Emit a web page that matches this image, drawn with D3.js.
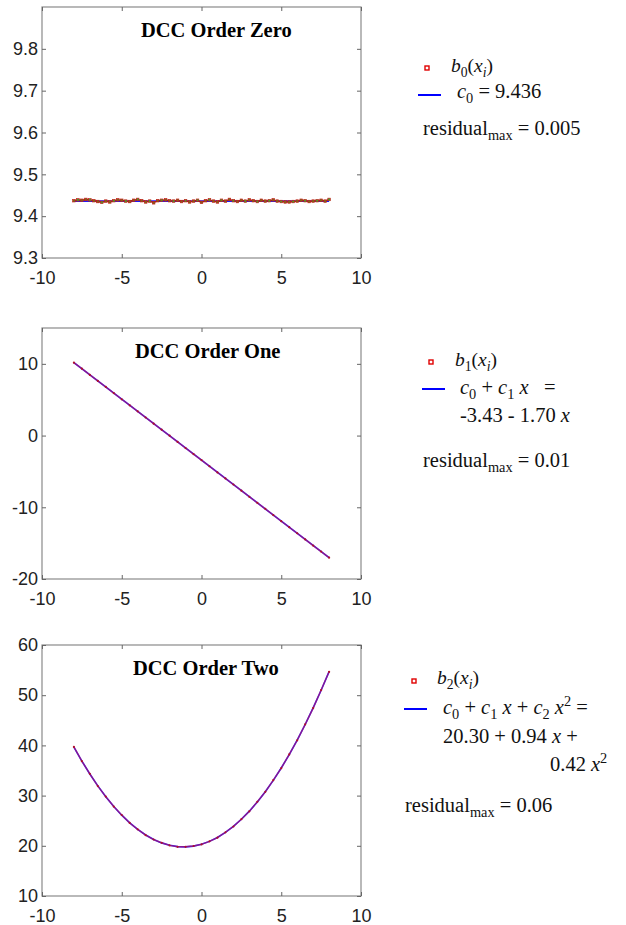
<!DOCTYPE html>
<html>
<head>
<meta charset="utf-8">
<script src="https://cdn.jsdelivr.net/npm/d3@7"></script>
<style>
  body { margin: 0; background: #fff; }
  text { white-space: pre; }
</style>
</head>
<body>
<svg id="chart" width="626" height="925"></svg>
<script>
// ---- data ----
const xTicks = [-10, -5, 0, 5, 10];
const titles = ["DCC Order Zero", "DCC Order One", "DCC Order Two"];

// order zero: samples every 0.25 from -8 to 8, fit c0
const yTicks0 = [9.3, 9.4, 9.5, 9.6, 9.7, 9.8];
const b0 = [9.437, 9.439, 9.438, 9.440, 9.439, 9.437, 9.435, 9.433, 9.436, 9.434,
            9.437, 9.439, 9.438, 9.436, 9.435, 9.438, 9.440, 9.437, 9.434, 9.436,
            9.432, 9.437, 9.438, 9.439, 9.437, 9.436, 9.438, 9.435, 9.437, 9.434,
            9.436, 9.438, 9.433, 9.437, 9.439, 9.436, 9.434, 9.438, 9.436, 9.440,
            9.437, 9.435, 9.438, 9.436, 9.439, 9.437, 9.435, 9.438, 9.436, 9.437,
            9.439, 9.436, 9.435, 9.434, 9.434, 9.435, 9.436, 9.438, 9.437, 9.435,
            9.436, 9.437, 9.438, 9.436, 9.440];
const fit0x = [-8, 8];
const fit0 = [9.436, 9.436];

// order one: samples every 0.5 from -8 to 8
const yTicks1 = [-20, -10, 0, 10];
const b1 = [10.17, 9.33, 8.46, 7.62, 6.78, 5.92, 5.06, 4.22, 3.38, 2.52, 1.66,
            0.82, -0.02, -0.88, -1.74, -2.58, -3.42, -4.28, -5.14, -5.98, -6.82,
            -7.68, -8.54, -9.38, -10.22, -11.08, -11.94, -12.78, -13.62, -14.48,
            -15.34, -16.18, -17.02];
const fit1x = [-8, 8];
const fit1 = [10.17, -17.03];

// order two: samples every 0.5 from -8 to 8
const yTicks2 = [10, 20, 30, 40, 50, 60];
const b2 = [39.70, 36.85, 34.33, 31.90, 29.80, 27.82, 26.14, 24.55, 23.28, 22.12,
            21.25, 20.61, 20.08, 19.80, 19.80, 19.96, 20.27, 20.90, 21.62, 22.69,
            23.84, 25.31, 26.86, 28.77, 30.75, 33.08, 35.47, 38.21, 41.02, 44.19,
            47.43, 51.02, 54.66];
const fit2x = [-8, -7.5, -7, -6.5, -6, -5.5, -5, -4.5, -4, -3.5, -3, -2.5, -2, -1.5,
               -1, -0.5, 0, 0.5, 1, 1.5, 2, 2.5, 3, 3.5, 4, 4.5, 5, 5.5, 6, 6.5, 7, 7.5, 8];
const fit2 = [39.66, 36.88, 34.30, 31.94, 29.78, 27.84, 26.10, 24.58, 23.26, 22.16,
              21.26, 20.58, 20.10, 19.84, 19.78, 19.94, 20.30, 20.88, 21.66, 22.66,
              23.86, 25.28, 26.90, 28.74, 30.78, 33.04, 35.50, 38.18, 41.06, 44.16,
              47.46, 50.98, 54.70];

const residuals = ["0.005", "0.01", "0.06"];

// ---- layout ----
const svg = d3.select("#chart");
const sansFont = "'Liberation Sans', Arial, Helvetica, sans-serif";
const serifFont = "'Liberation Serif', 'Times New Roman', serif";
const left = 42, plotW = 319, plotH = 251;
const fmt = d => String(d); // plain hyphen minus like the original

const panels = [
  {top: 7,   domain: [9.3, 9.9], ticks: yTicks0, samples: b0, step: 0.25, fx: fit0x, fy: fit0, titleX: 141, zero: true},
  {top: 328, domain: [-20, 15],  ticks: yTicks1, samples: b1, step: 0.5,  fx: fit1x, fy: fit1, titleX: 135},
  {top: 645, domain: [10, 60],   ticks: yTicks2, samples: b2, step: 0.5,  fx: fit2x, fy: fit2, titleX: 133}
];

panels.forEach(function(p, k) {
  const g = svg.append("g").attr("transform", "translate(" + left + "," + p.top + ")");
  const x = d3.scaleLinear().domain([-10, 10]).range([0, plotW]);
  const y = d3.scaleLinear().domain(p.domain).range([plotH, 0]);

  g.append("rect").attr("width", plotW).attr("height", plotH)
    .attr("fill", "#fff").attr("stroke", "#8a8a8a").attr("stroke-width", 1.2);

  const styleAxis = function(a) {
    a.select(".domain").remove();
    a.selectAll(".tick line").attr("stroke", "#666");
    a.selectAll("text").attr("font-family", sansFont).attr("font-size", 18).attr("fill", "#222");
  };
  g.append("g").call(d3.axisLeft(y).tickValues(p.ticks).tickFormat(fmt).tickSize(-4).tickPadding(4)).call(styleAxis);
  g.append("g").attr("transform", "translate(" + plotW + ",0)")
    .call(d3.axisRight(y).tickValues(p.ticks).tickSize(-4).tickFormat("")).call(styleAxis);
  g.append("g").attr("transform", "translate(0," + plotH + ")")
    .call(d3.axisBottom(x).tickValues(xTicks).tickFormat(fmt).tickSize(-4).tickPadding(13)).call(styleAxis);
  g.append("g")
    .call(d3.axisTop(x).tickValues(xTicks).tickSize(-4).tickFormat("")).call(styleAxis);

  g.append("text").attr("x", p.titleX - left).attr("y", 30)
    .attr("font-family", serifFont).attr("font-weight", "bold").attr("font-size", 20.5)
    .text(titles[k]);

  const xs = d3.range(p.samples.length).map(i => -8 + i * p.step);
  const line = d3.line().x(d => x(d[0])).y(d => y(d[1]));

  // fitted curve (blue)
  g.append("path").datum(p.fx.map((v, i) => [v, p.fy[i]]))
    .attr("d", line).attr("fill", "none")
    .attr("stroke", "#1a1aff").attr("stroke-width", 1.6);

  const pts = xs.map((v, i) => [v, p.samples[i]]);
  if (p.zero) {
    g.append("path").datum(pts).attr("d", line).attr("fill", "none")
      .attr("stroke", "#b01818").attr("stroke-width", 1.4);
    g.selectAll("rect.pt").data(pts).enter().append("rect").attr("class", "pt")
      .attr("x", d => x(d[0]) - 1.3).attr("y", d => y(d[1]) - 1.3)
      .attr("width", 2.6).attr("height", 2.6)
      .attr("fill", (d, i) => i % 3 === 1 ? "#4c9a2a" : "#7a6a1a")
      .attr("stroke", "#c81818").attr("stroke-width", 0.6);
  } else {
    g.append("path").datum(pts).attr("d", line).attr("fill", "none")
      .attr("stroke", "#d0104a").attr("stroke-opacity", 0.6).attr("stroke-width", 1.4);
    g.selectAll("circle.pt").data(pts).enter().append("circle").attr("class", "pt")
      .attr("cx", d => x(d[0])).attr("cy", d => y(d[1])).attr("r", 1.1)
      .attr("fill", "#b0102a");
  }
});

// ---- legends ----
function rich(x, y, parts, size) {
  const fs = size || 20.5;
  const t = svg.append("text").attr("x", x).attr("y", y)
    .attr("font-family", serifFont).attr("font-size", fs).attr("fill", "#111");
  let off = 0;
  parts.forEach(function(p) {
    const o = p.sub ? 5 : (p.sup ? -8 : 0);
    const s = t.append("tspan").attr("dy", o - off).text(p.t);
    off = o;
    if (p.i) s.attr("font-style", "italic");
    if (p.sub || p.sup) s.attr("font-size", fs * 0.7);
  });
}
function marker(x, y) {
  svg.append("rect").attr("x", x - 2).attr("y", y - 2).attr("width", 4).attr("height", 4)
    .attr("fill", "#fff").attr("stroke", "#e00000").attr("stroke-width", 1.4);
}
function blueLine(x1, x2, y) {
  svg.append("line").attr("x1", x1).attr("x2", x2).attr("y1", y).attr("y2", y)
    .attr("stroke", "#0000ff").attr("stroke-width", 2);
}
function bLabel(x, y, n) {
  rich(x, y, [{t: "b", i: 1}, {t: n, sub: 1}, {t: "("}, {t: "x", i: 1}, {t: "i", i: 1, sub: 1}, {t: ")"}], 19.5);
}
function resid(x, y, v) {
  rich(x, y, [{t: "residual"}, {t: "max", sub: 1}, {t: " = " + v}]);
}

// legend 0
marker(427, 68);
bLabel(451, 72, "0");
blueLine(418, 441, 95);
rich(457, 98, [{t: "c", i: 1}, {t: "0", sub: 1}, {t: " = " + fit0[0].toFixed(3)}]);
resid(423, 135, residuals[0]);

// legend 1
marker(431, 362);
bLabel(455, 366, "1");
blueLine(422, 445, 389);
rich(460, 394, [{t: "c", i: 1}, {t: "0", sub: 1}, {t: " + "}, {t: "c", i: 1}, {t: "1", sub: 1}, {t: " "}, {t: "x", i: 1}, {t: "   ="}]);
rich(460, 422, [{t: "-3.43 - 1.70 "}, {t: "x", i: 1}]);
resid(423, 467, residuals[1]);

// legend 2
marker(414, 681);
bLabel(437, 684, "2");
blueLine(404, 427, 709);
rich(443, 714, [{t: "c", i: 1}, {t: "0", sub: 1}, {t: " + "}, {t: "c", i: 1}, {t: "1", sub: 1}, {t: " "}, {t: "x", i: 1},
                {t: " + "}, {t: "c", i: 1}, {t: "2", sub: 1}, {t: " "}, {t: "x", i: 1}, {t: "2", sup: 1}, {t: " ="}]);
rich(443, 743, [{t: "20.30 + 0.94 "}, {t: "x", i: 1}, {t: " +"}]);
rich(550, 771, [{t: "0.42 "}, {t: "x", i: 1}, {t: "2", sup: 1}]);
resid(405, 812, residuals[2]);
</script>
</body>
</html>
